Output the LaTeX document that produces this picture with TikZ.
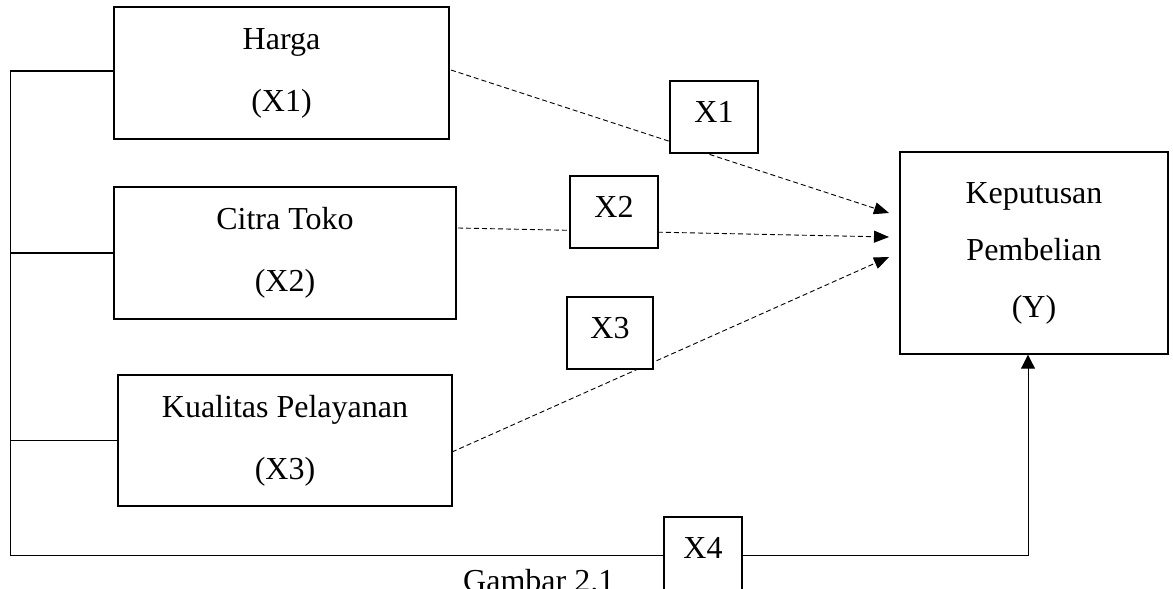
\documentclass[tikz,border=0pt]{standalone}
\usepackage{fontspec}
\setmainfont{Liberation Serif}
\usetikzlibrary{arrows.meta,backgrounds}
\begin{document}
\begin{tikzpicture}[x=1pt,y=-1pt,
  bigbox/.style={draw,line width=1.4pt,fill=white,inner sep=0pt,align=center,font=\fontsize{32}{62}\selectfont},
  smallbox/.style={draw,line width=1.4pt,fill=white,inner sep=0pt,minimum width=88pt,minimum height=72pt,font=\fontsize{32}{38}\selectfont,text height=21pt,text depth=10pt},
  solidline/.style={line width=1pt},
  stubline/.style={line width=1.4pt},
  dashline/.style={line width=0.9pt,dash pattern=on 5pt off 3pt,-{Triangle[length=15pt,width=12pt]}},
  uparrow/.style={line width=1pt,-{Triangle[length=14pt,width=14pt]}}]
\useasboundingbox (0,0) rectangle (1173,589);
\clip (0,0) rectangle (1173,589);
% main boxes
\node[bigbox,minimum width=335pt,minimum height=132pt] (harga) at (281.5,73) {Harga\\(X1)};
\node[bigbox,minimum width=342pt,minimum height=132pt] (citra) at (285,253) {Citra Toko\\(X2)};
\node[bigbox,minimum width=334pt,minimum height=131pt] (kual) at (285,440.5) {Kualitas Pelayanan\\(X3)};
\node[bigbox,minimum width=268pt,minimum height=202pt,font=\fontsize{32}{57}\selectfont] (kp) at (1034,253) {Keputusan\\Pembelian\\(Y)};
% small boxes
\node[smallbox] (x1) at (714,117) {X1};
\node[smallbox] (x2) at (614,212) {X2};
\node[smallbox,minimum width=86pt] (x3) at (610,333) {X3};
\node[smallbox,minimum width=78pt,minimum height=76pt,text depth=14pt] (x4) at (703,555) {X4};
% caption
\node[anchor=base west,inner sep=0pt,font=\fontsize{32}{38}\selectfont] (cap) at (463,591) {Gambar 2.1};
% coordinates
\coordinate (s1) at (451,70);
\coordinate (s2) at (458,228);
\coordinate (s3) at (452,452);
\coordinate (t1) at (889,213);
\coordinate (t2) at (889,237);
\coordinate (t3) at (889,257);
\coordinate (lt) at (10,71);
\coordinate (lb) at (10,555);
\coordinate (yc) at (1028,555);
\begin{pgfonlayer}{background}
\draw[dashline] (s1) -- (t1);
\draw[dashline] (s2) -- (t2);
\draw[dashline] (s3) -- (t3);
\end{pgfonlayer}
% left bracket
\draw[solidline] (lt) -- (lb);
\draw[stubline] (lt) -- (lt -| harga.west);
\draw[stubline] (citra.west) -- (citra.west -| lb);
\draw[stubline] (kual.west) -- (kual.west -| lb);
% bottom path
\draw[solidline] (lb) -- (x4.west);
\draw[uparrow] (x4.east) -- (yc) -- (yc |- kp.south);
\end{tikzpicture}
\end{document}
